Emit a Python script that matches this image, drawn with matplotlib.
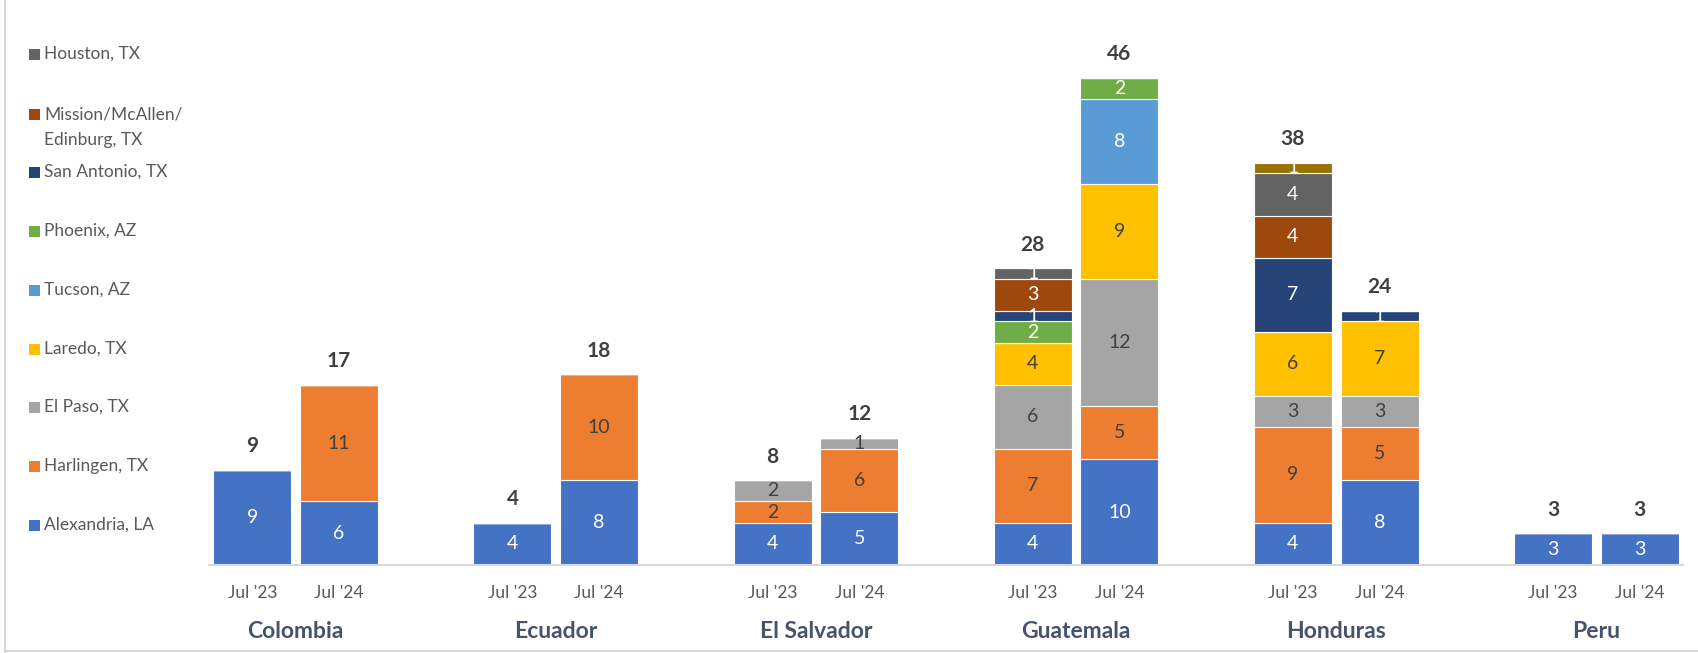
import matplotlib
matplotlib.use("Agg")
import matplotlib.pyplot as plt
from matplotlib.patches import Rectangle
from matplotlib.lines import Line2D
import numpy as np

plt.rcParams['font.family'] = ['Lato', 'DejaVu Sans']

countries = ["Colombia", "Ecuador", "El Salvador", "Guatemala", "Honduras", "Peru"]
periods = ["Jul '23", "Jul '24"]

# order of bars: Colombia Jul23, Colombia Jul24, Ecuador Jul23, ...
alexandria = [9, 6, 4, 8, 4, 5, 4, 10, 4, 8, 3, 3]
harlingen  = [0, 11, 0, 10, 2, 6, 7, 5, 9, 5, 0, 0]
el_paso    = [0, 0, 0, 0, 2, 1, 6, 12, 3, 3, 0, 0]
laredo     = [0, 0, 0, 0, 0, 0, 4, 9, 6, 7, 0, 0]
tucson     = [0, 0, 0, 0, 0, 0, 0, 8, 0, 0, 0, 0]
phoenix    = [0, 0, 0, 0, 0, 0, 2, 2, 0, 0, 0, 0]
san_antonio = [0, 0, 0, 0, 0, 0, 1, 0, 7, 1, 0, 0]
mission    = [0, 0, 0, 0, 0, 0, 3, 0, 4, 0, 0, 0]
houston    = [0, 0, 0, 0, 0, 0, 1, 0, 4, 0, 0, 0]
other      = [0, 0, 0, 0, 0, 0, 0, 0, 1, 0, 0, 0]

series = [
    ("Alexandria, LA", alexandria, "#4472C4", "white"),
    ("Harlingen, TX", harlingen, "#ED7D31", "#404040"),
    ("El Paso, TX", el_paso, "#A5A5A5", "#404040"),
    ("Laredo, TX", laredo, "#FFC000", "#404040"),
    ("Tucson, AZ", tucson, "#5B9BD5", "white"),
    ("Phoenix, AZ", phoenix, "#70AD47", "white"),
    ("San Antonio, TX", san_antonio, "#264478", "white"),
    ("Mission/McAllen/\nEdinburg, TX", mission, "#9E480E", "white"),
    ("Houston, TX", houston, "#636363", "white"),
    ("Other", other, "#997300", "white"),
]

W, H = 1698, 653
fig = plt.figure(figsize=(W / 100, H / 100), dpi=100)
ax_left, ax_right = 209 / W, 1683 / W
base_px = 565
ymax = 50
px_per_unit = 10.59
ax_h = ymax * px_per_unit / H
ax = fig.add_axes([ax_left, (H - base_px) / H, ax_right - ax_left, ax_h])

pos = []
for g in range(len(countries)):
    pos += [3 * g, 3 * g + 1]
pos = np.array(pos, dtype=float)

bottom = np.zeros(len(pos))
for name, vals, col, tcol in series:
    v = np.array(vals, dtype=float)
    ax.bar(pos, v, width=0.9, bottom=bottom, color=col, edgecolor="white", linewidth=0.8)
    for x, b, val in zip(pos, bottom, v):
        if val > 0:
            ax.text(x, b + val / 2, f"{int(val)}", ha="center", va="center",
                    fontsize=14, color=tcol)
    bottom += v

for x, tot in zip(pos, bottom):
    ax.annotate(f"{int(tot)}", (x, tot), xytext=(0, 17), textcoords="offset points",
                ha="center", va="center", fontsize=15, fontweight="bold", color="#404040")

for i, x in enumerate(pos):
    ax.text(x, -28 / px_per_unit, periods[i % 2], ha="center", va="center",
            fontsize=12.5, color="#595959", clip_on=False)
for g, c in enumerate(countries):
    ax.text(3 * g + 0.5, -67 / px_per_unit, c, ha="center", va="center",
            fontsize=16.5, fontweight="bold", color="#44546A", clip_on=False)

ax.set_xlim(-0.5, 16.5)
ax.set_ylim(0, ymax)
for s in ["top", "right", "left"]:
    ax.spines[s].set_visible(False)
ax.spines["bottom"].set_color("#D9D9D9")
ax.spines["bottom"].set_linewidth(1.5)
ax.set_xticks([])
ax.set_yticks([])

# legend (manual)
legend_items = [
    (["Houston, TX"], "#636363", 54),
    (["Mission/McAllen/", "Edinburg, TX"], "#9E480E", 114),
    (["San Antonio, TX"], "#264478", 172),
    (["Phoenix, AZ"], "#70AD47", 231),
    (["Tucson, AZ"], "#5B9BD5", 290),
    (["Laredo, TX"], "#FFC000", 349),
    (["El Paso, TX"], "#A5A5A5", 407),
    (["Harlingen, TX"], "#ED7D31", 466),
    (["Alexandria, LA"], "#4472C4", 525),
]
sq = 11
for lines, col, y in legend_items:
    fig.add_artist(Rectangle((29 / W, (H - y - sq / 2) / H), sq / W, sq / H,
                             transform=fig.transFigure, facecolor=col, edgecolor="none"))
    for k, line in enumerate(lines):
        fig.text(44 / W, (H - y - 26 * k) / H, line, ha="left", va="center",
                 fontsize=12.5, color="#595959")

# border lines
fig.add_artist(Line2D([5 / W, 5 / W], [0, 1], transform=fig.transFigure, color="#D9D9D9", lw=1.5))
fig.add_artist(Line2D([5 / W, 1], [2 / H, 2 / H], transform=fig.transFigure, color="#D9D9D9", lw=1.5))

fig.savefig("out.png", dpi=100)
